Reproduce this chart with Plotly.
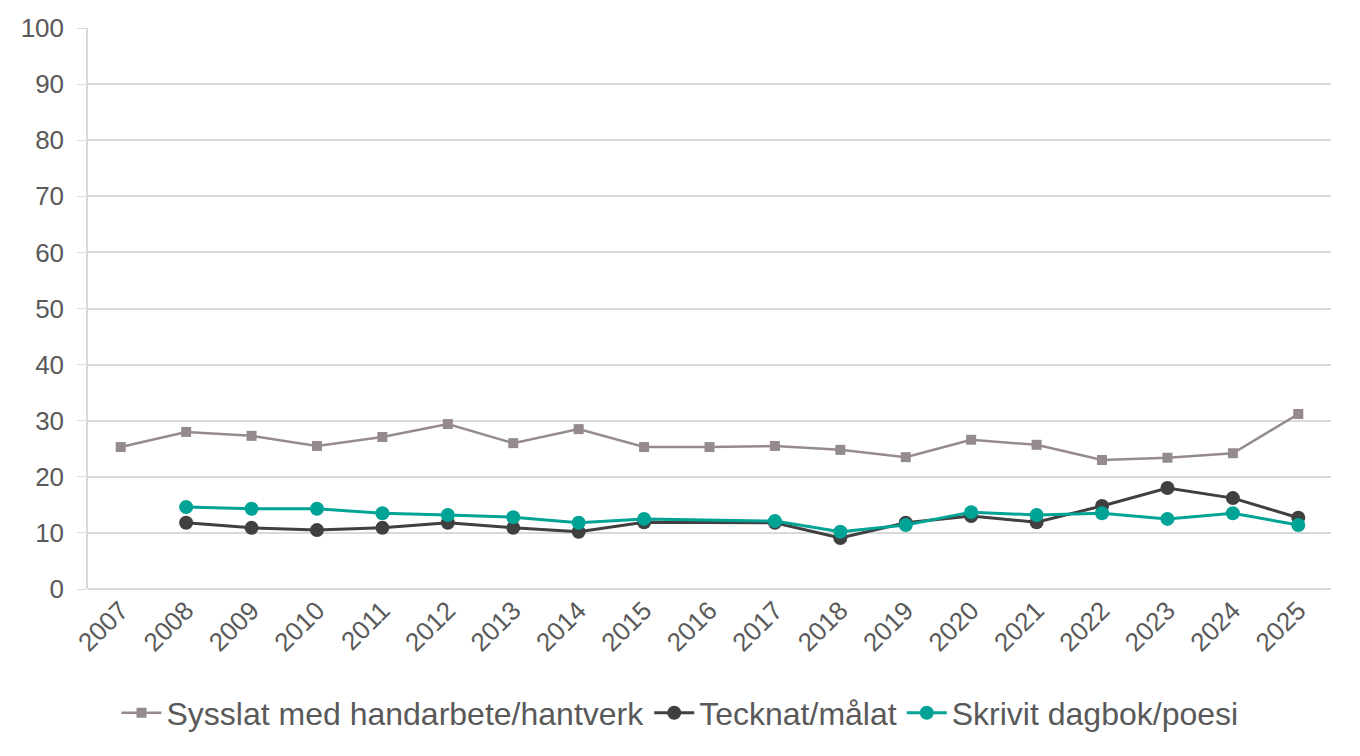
import plotly.graph_objects as go

years = [str(y) for y in range(2007, 2026)]
handarbete = [25.3, 28.0, 27.3, 25.5, 27.1, 29.4, 26.0, 28.5, 25.3, 25.3, 25.5, 24.8, 23.5, 26.6, 25.7, 23.0, 23.4, 24.2, 31.2]
tecknat = [None, 11.8, 10.9, 10.5, 10.9, 11.8, 10.9, 10.2, 11.9, None, 11.8, 9.1, 11.8, 13.0, 11.9, 14.8, 18.0, 16.2, 12.7]
dagbok = [None, 14.6, 14.3, 14.3, 13.5, 13.2, 12.8, 11.8, 12.5, None, 12.1, 10.2, 11.4, 13.7, 13.2, 13.5, 12.5, 13.5, 11.4]
names = ["Sysslat med handarbete/hantverk", "Tecknat/målat", "Skrivit dagbok/poesi"]
y_ticks = [0, 10, 20, 30, 40, 50, 60, 70, 80, 90, 100]

fig = go.Figure()
fig.add_trace(go.Scatter(x=years, y=handarbete, name=names[0], mode="lines+markers",
                         line=dict(color="#958b8e", width=2.5),
                         marker=dict(symbol="square", size=10, color="#958b8e"),
                         connectgaps=True))
fig.add_trace(go.Scatter(x=years, y=tecknat, name=names[1], mode="lines+markers",
                         line=dict(color="#404040", width=3),
                         marker=dict(symbol="circle", size=14, color="#404040"),
                         connectgaps=True))
fig.add_trace(go.Scatter(x=years, y=dagbok, name=names[2], mode="lines+markers",
                         line=dict(color="#00a396", width=3),
                         marker=dict(symbol="circle", size=14, color="#00a396"),
                         connectgaps=True))

fig.update_layout(
    width=1360, height=756,
    margin=dict(l=88, r=29, t=28, b=167, autoexpand=False),
    paper_bgcolor="white", plot_bgcolor="white",
    font=dict(family="Liberation Sans, Arial, sans-serif", size=26, color="#595959"),
    showlegend=True,
    legend=dict(orientation="h", x=0.5, xanchor="center", xref="container",
                y=(756 - 713) / 756, yanchor="middle", yref="container",
                font=dict(size=32, color="#595959"), itemwidth=40, tracegroupgap=0),
    xaxis=dict(type="category", tickangle=-45, showgrid=False, showline=False,
               ticks="", range=[-0.5, 18.5], tickfont=dict(size=26), automargin=False),
    yaxis=dict(range=[0, 100], tickvals=y_ticks, showgrid=True, gridcolor="#d9d9d9",
               gridwidth=1.5, showline=True, linecolor="#d9d9d9", linewidth=1.5,
               ticks="outside", ticklen=9, tickcolor="#d9d9d9", zeroline=True,
               zerolinecolor="#d9d9d9", zerolinewidth=1.5, tickfont=dict(size=26),
               ticklabelstandoff=8, automargin=False),
)

fig.write_html("out.html")
